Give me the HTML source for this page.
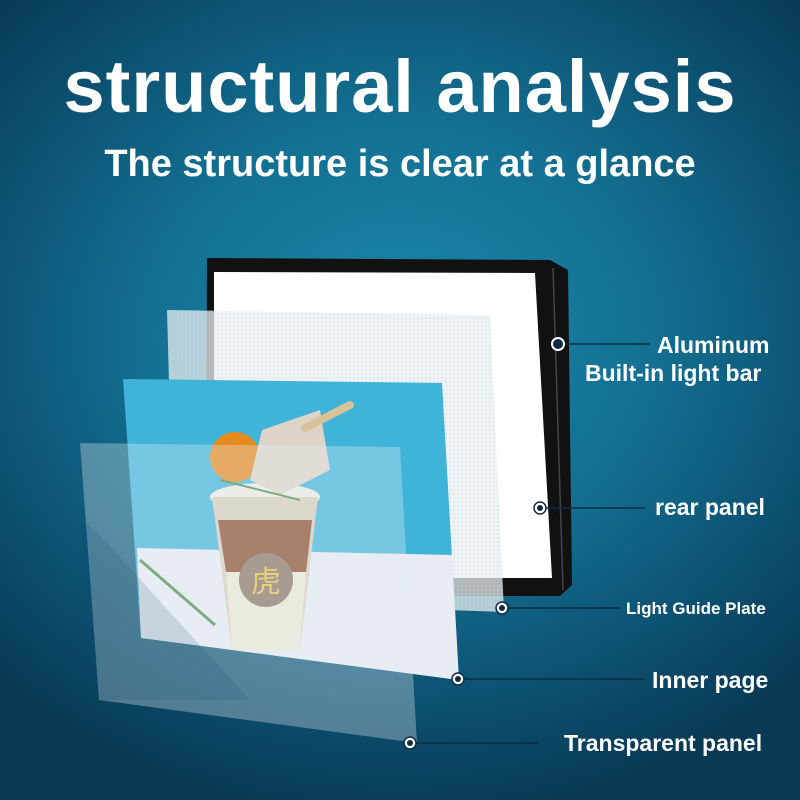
<!DOCTYPE html>
<html><head><meta charset="utf-8"><style>
html,body{margin:0;padding:0}
body{width:800px;height:800px;overflow:hidden;position:relative;font-family:"Liberation Sans",sans-serif;
background:radial-gradient(ellipse 70% 60% at 50% 42%,#1b88ad 0%,#137092 45%,#0c4d6d 80%,#083a55 100%);}
.t{position:absolute;left:0;width:800px;text-align:center;color:#fff;font-weight:bold}
.l{position:absolute;color:#fff;font-weight:bold;font-size:22px;white-space:nowrap}
</style></head><body>
<div class="t" style="top:44px;font-size:74px;letter-spacing:1px">structural analysis</div>
<div class="t" style="top:143px;font-size:38px">The structure is clear at a glance</div>
<svg width="800" height="800" style="position:absolute;left:0;top:0">
<defs>
<pattern id="dots" width="4" height="4" patternUnits="userSpaceOnUse"><circle cx="2" cy="2" r="0.9" fill="#c9d6dc"/></pattern>
</defs>
<polygon points="207,258 550,260 568,270 572,585 560,596 205,596" fill="#111"/>
<polygon points="214,272 535,273 552,578 214,578" fill="#fff"/>
<line x1="553" y1="268" x2="563" y2="590" stroke="#444" stroke-width="1.5"/>
<polygon points="167,310 490,315 504,612 175,600" fill="#e8eff2" opacity="0.75"/>
<polygon points="167,310 490,315 504,612 175,600" fill="url(#dots)" opacity="0.6"/>
<polygon points="123,379 442,383 459,680 141,638" fill="#3fb3d8"/>
<polygon points="137,548 452,555 459,680 141,638" fill="#e9ecf2"/>
<ellipse cx="265" cy="497" rx="55" ry="14" fill="#efeae2"/>
<path d="M212,497 L318,497 L300,650 L232,650 Z" fill="#d9cdb8"/>
<path d="M218,520 L312,520 L306,572 L226,572 Z" fill="#8a4a28"/>
<path d="M226,572 L306,572 L300,650 L232,650 Z" fill="#ece8d2"/>
<circle cx="266" cy="580" r="27" fill="#8a7360"/>
<text x="266" y="592" text-anchor="middle" font-size="30" fill="#e8c04a" font-family="Noto Sans CJK SC,sans-serif">虎</text>
<circle cx="235" cy="457" r="25" fill="#e58a1e"/>
<polygon points="262,430 320,410 330,470 280,495 250,480" fill="#ddd3c7"/>
<line x1="305" y1="428" x2="350" y2="405" stroke="#d8c29a" stroke-width="8" stroke-linecap="round"/>
<path d="M140,560 L215,625" stroke="#4d8a4a" stroke-width="3"/>
<path d="M220,480 L300,500" stroke="#4d8a4a" stroke-width="2"/>
<polygon points="80,443 400,447 417,743 99,700" fill="#e6f1f6" opacity="0.33"/>
<polygon points="80,520 95,530 250,700 99,700" fill="#0c4d6d" opacity="0.15"/>
<g stroke="#0d2b45" stroke-width="1.5" fill="none">
<line x1="558" y1="344" x2="650" y2="344"/>
<line x1="540" y1="508" x2="645" y2="508"/>
<line x1="502" y1="608" x2="620" y2="608"/>
<line x1="458" y1="679" x2="645" y2="679"/>
<line x1="410" y1="743" x2="538" y2="743"/>
</g>
<g>
<circle cx="558" cy="344" r="6" fill="#0d2b45" stroke="#fff" stroke-width="2"/>
<circle cx="540" cy="508" r="6" fill="#fff" stroke="#0d2b45" stroke-width="1.5"/><circle cx="540" cy="508" r="3" fill="#0d2b45"/>
<circle cx="502" cy="608" r="6" fill="#fff" stroke="#0d2b45" stroke-width="1.5"/><circle cx="502" cy="608" r="3" fill="#0d2b45"/>
<circle cx="458" cy="679" r="6" fill="#fff" stroke="#0d2b45" stroke-width="1.5"/><circle cx="458" cy="679" r="3" fill="#0d2b45"/>
<circle cx="410" cy="743" r="6" fill="#fff" stroke="#0d2b45" stroke-width="1.5"/><circle cx="410" cy="743" r="3" fill="#0d2b45"/>
</g>
</svg>
<div class="l" style="left:657px;top:332px;font-size:23px">Aluminum</div>
<div class="l" style="left:585px;top:360px;font-size:23px">Built-in light bar</div>
<div class="l" style="left:655px;top:494px;font-size:23px">rear panel</div>
<div class="l" style="left:626px;top:599px;font-size:17px">Light Guide Plate</div>
<div class="l" style="left:652px;top:667px;font-size:23px">Inner page</div>
<div class="l" style="left:564px;top:730px;font-size:23px">Transparent panel</div>
</body></html>
